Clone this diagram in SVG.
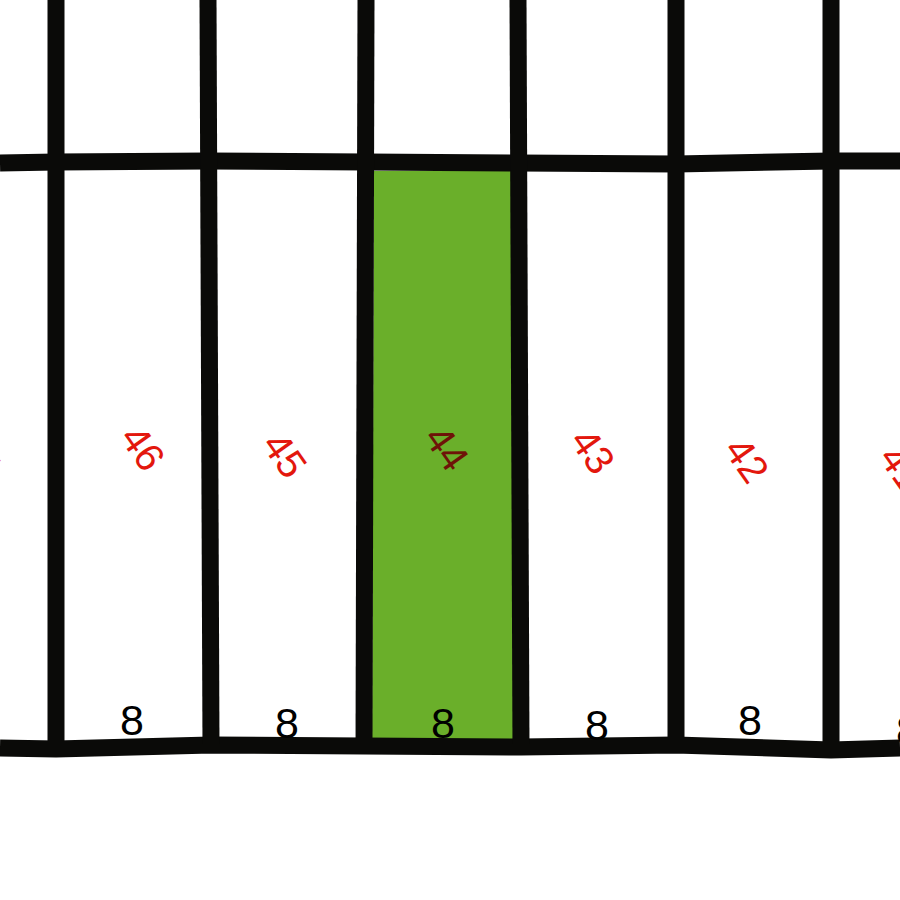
<svg xmlns="http://www.w3.org/2000/svg" width="900" height="900" viewBox="0 0 900 900">
<style>
.ln{fill:none;stroke:#0a0a08;stroke-width:17;stroke-linejoin:round}
.lot{font-family:"Liberation Sans",Arial,sans-serif;font-size:40px;fill:#e3170d;text-anchor:middle}
.sel{fill:#6e1308}
.dim{font-family:"Liberation Sans",Arial,sans-serif;font-size:43px;fill:#000;text-anchor:middle}
</style>
<rect width="900" height="900" fill="#fff"/>
<g id="lot44-fill"><polygon points="374,171 511,171 514,740 372,740" fill="#6aaf2a"/></g>
<g id="connectors">
<polyline class="ln" points="0,163 56,162 208,161 366,162 518,163 676,164 831,161 900,161"/>
<polyline class="ln" points="0,748 56,749 211,745 364,746 521,747 676,745 831,750 900,748"/>
<line class="ln" x1="56" y1="0" x2="56" y2="752"/>
<line class="ln" x1="208" y1="0" x2="211" y2="748"/>
<line class="ln" x1="366" y1="0" x2="364" y2="748"/>
<line class="ln" x1="518" y1="0" x2="521" y2="748"/>
<line class="ln" x1="676" y1="0" x2="676" y2="748"/>
<line class="ln" x1="831" y1="0" x2="831" y2="750"/>
</g>
<g id="lot47"><text class="lot" transform="translate(-22,452) rotate(55)" y="14">47</text></g>
<g id="lot46"><text class="lot" transform="translate(143,448) rotate(55)" y="14">46</text><text class="dim" x="132" y="735">8</text></g>
<g id="lot45"><text class="lot" transform="translate(285,455) rotate(55)" y="14">45</text><text class="dim" x="287" y="738">8</text></g>
<g id="lot44"><text class="lot sel" transform="translate(447,448) rotate(55)" y="14">44</text><text class="dim" x="443" y="738">8</text></g>
<g id="lot43"><text class="lot" transform="translate(593,451) rotate(55)" y="14">43</text><text class="dim" x="597" y="740">8</text></g>
<g id="lot42"><text class="lot" transform="translate(747,460) rotate(55)" y="14">42</text><text class="dim" x="750" y="735">8</text></g>
<g id="lot41"><text class="lot" transform="translate(902,468) rotate(55)" y="14">41</text><text class="dim" x="908" y="745">8</text></g>
</svg>
